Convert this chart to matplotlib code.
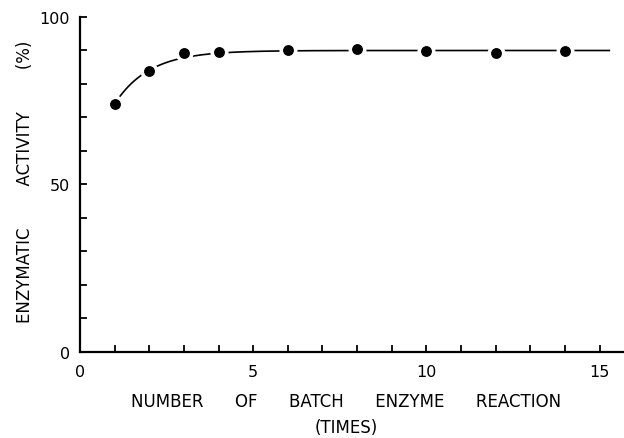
import numpy as np
import matplotlib
matplotlib.use("Agg")
import matplotlib.pyplot as plt

# Data
batch_number = [1, 2, 3, 4, 6, 8, 10, 12, 14]
activity = [74.0, 84.0, 89.3, 89.6, 90.2, 90.4, 89.8, 89.3, 89.9]

# Guide-curve parameters (saturating trend drawn through the points)
plateau = 90.0
initial_drop = 16.0
rate = 1.0
curve_start, curve_end = 1.0, 15.3

x_ticks_major = [0, 5, 10, 15]
y_ticks_major = [0, 50, 100]

fig = plt.figure(figsize=(6.24, 4.39), dpi=100)
ax = fig.add_axes([0.128, 0.196, 0.872, 0.763])

xc = np.linspace(curve_start, curve_end, 300)
yc = plateau - initial_drop * np.exp(-rate * (xc - curve_start))
ax.plot(xc, yc, color="black", lw=1.2, zorder=1, solid_capstyle="butt")
ax.plot(batch_number, activity, linestyle="none", marker="o", ms=13,
        mfc="white", mec="none", zorder=2, clip_on=False)
ax.plot(batch_number, activity, linestyle="none", marker="o", ms=6.8,
        mfc="black", mec="black", zorder=3, clip_on=False)

ax.set_xlim(0, 15.7)
ax.set_ylim(0, 100)
ax.set_xticks(x_ticks_major)
ax.set_xticks(np.arange(0, 16, 1), minor=True)
ax.set_yticks(y_ticks_major)
ax.set_yticks(np.arange(0, 101, 10), minor=True)

for s in ["top", "right"]:
    ax.spines[s].set_visible(False)
for s in ["left", "bottom"]:
    ax.spines[s].set_linewidth(1.6)

ax.tick_params(axis="both", which="both", direction="in", width=1.3,
               length=5, labelsize=11.5, colors="black")
ax.tick_params(axis="x", which="major", pad=9)
ax.tick_params(axis="y", which="major", pad=7)

ax.set_xlabel("NUMBER      OF      BATCH      ENZYME      REACTION\n(TIMES)",
              fontsize=12, linespacing=1.55, labelpad=9)
ax.xaxis.get_label().set_x(0.49)
ax.set_ylabel("ENZYMATIC        ACTIVITY        (%)", fontsize=12, labelpad=4)
ax.yaxis.get_label().set_y(0.51)

fig.savefig("out.png", dpi=100)
